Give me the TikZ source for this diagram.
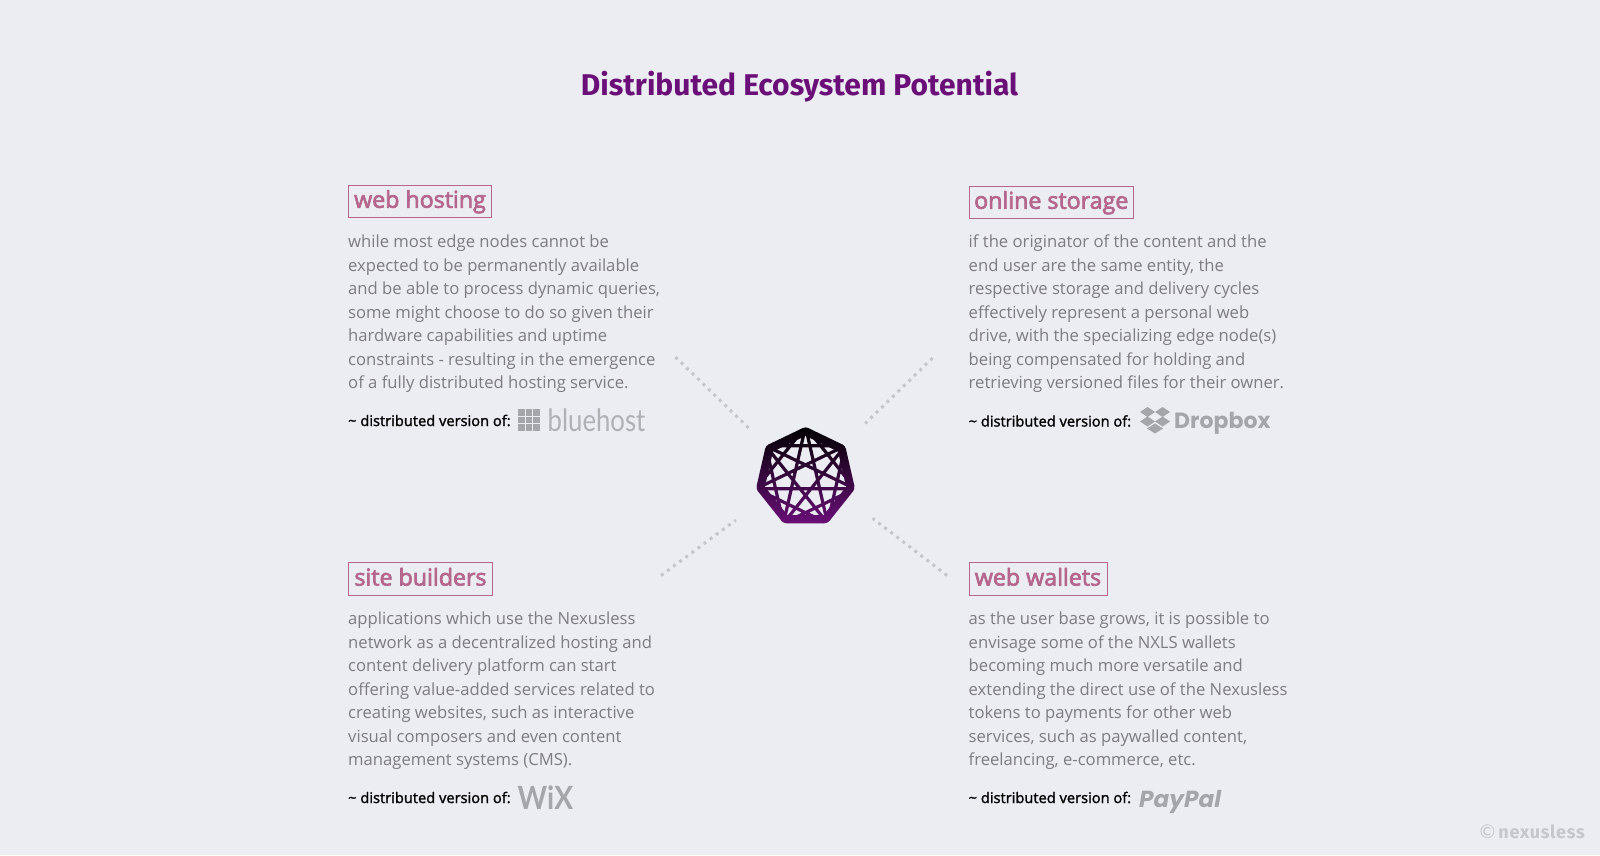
\documentclass[tikz,border=0pt]{standalone}
\usepackage{fontspec}
\usepackage{graphicx}
\usetikzlibrary{calc,shapes.geometric}
\setmainfont{Open Sans}
\newfontfamily\headfont[FakeBold=3]{Open Sans}
\newfontfamily\titlefont{Fira Sans}
\newfontfamily\lightfont{Lato}
\newfontfamily\logofont{Poppins}
\newfontfamily\medfont[FakeBold=1.5]{Open Sans}
\newfontfamily\footfont[LetterSpace=4]{Fira Sans}
\definecolor{bgc}{HTML}{ECEDF3}
\definecolor{titlec}{HTML}{6A0F78}
\definecolor{boxc}{HTML}{B5668C}
\definecolor{bodyc}{HTML}{7C7C82}
\definecolor{logoc}{HTML}{A5A6A9}
\definecolor{dotc}{HTML}{C4C6CC}
\definecolor{footc}{HTML}{C6C7CD}
\tikzset{
  headbox/.style={draw=boxc,line width=1pt,text=boxc,inner sep=0pt,anchor=north west,minimum height=31.5pt,
    text height=17pt,text depth=4pt,font=\headfont\fontsize{23.2}{28}\selectfont},
  bodytext/.style={text=bodyc,inner sep=0pt,anchor=north west,align=left,
    font=\fontsize{16.65}{23.5}\selectfont},
  vstext/.style={text=black,inner sep=0pt,anchor=base west,font=\medfont\fontsize{14.65}{18}\selectfont},
  logotext/.style={text=logoc,inner sep=0pt,anchor=base west},
  dotline/.style={dotc,line width=3pt,dash pattern=on 3pt off 4.6pt},
  emblemshade/.style={top color=black,middle color=titlec!62!black,bottom color=titlec},
}
\begin{document}
\begin{tikzpicture}[x=1pt,y=-1pt]
\useasboundingbox (0,0) rectangle (1600,855);
\fill[bgc] (0,0) rectangle (1600,855);

\node[text=titlec,inner sep=0pt,anchor=base,font=\titlefont\bfseries\fontsize{30}{36}\selectfont] (title) at (799.5,95) {Distributed Ecosystem Potential};

% head boxes
\node[headbox,minimum width=143pt] (h1) at (348,185) {web hosting};
\node[headbox,minimum width=164.5pt] (h2) at (968.5,186) {online storage};
\node[headbox,minimum width=144pt,minimum height=33pt] (h3) at (348,562) {site builders};
\node[headbox,minimum width=138pt,minimum height=33pt] (h4) at (968.5,562) {web wallets};

% body
\node[bodytext] (b1) at (348,234.7) {while most edge nodes cannot be\\expected to be permanently available\\and be able to process dynamic queries,\\some might choose to do so given their\\hardware capabilities and uptime\\constraints - resulting in the emergence\\of a fully distributed hosting service.};
\node[bodytext] (b2) at (968.5,234.8) {if the originator of the content and the\\end user are the same entity, the\\respective storage and delivery cycles\\effectively represent a personal web\\drive, with the specializing edge node(s)\\being compensated for holding and\\retrieving versioned files for their owner.};
\node[bodytext] (b3) at (348,612) {applications which use the Nexusless\\network as a decentralized hosting and\\content delivery platform can start\\offering value-added services related to\\creating websites, such as interactive\\visual composers and even content\\management systems (CMS).};
\node[bodytext] (b4) at (968.5,612) {as the user base grows, it is possible to\\envisage some of the NXLS wallets\\becoming much more versatile and\\extending the direct use of the Nexusless\\tokens to payments for other web\\services, such as paywalled content,\\freelancing, e-commerce, etc.};

% distributed version lines
\node[vstext] (v1) at (348,426) {\textasciitilde{} distributed version of:};
\node[vstext] (v2) at (968.5,426.5) {\textasciitilde{} distributed version of:};
\node[vstext] (v3) at (348,803) {\textasciitilde{} distributed version of:};
\node[vstext] (v4) at (968.5,803) {\textasciitilde{} distributed version of:};

% bluehost logo
\foreach \i in {0,1,2}\foreach \j in {0,1,2}
  \fill[logoc] ({518+\i*7.5},{409+\j*7.5}) rectangle ++(6.6,6.6);
\node[logotext,font=\lightfont\fontsize{31}{36}\selectfont,text=logoc!85!bgc] (l1) at (547.5,431) {\scalebox{0.83}[1]{bluehost}};

% dropbox logo
\foreach \cx/\cy in {1147.5/412,1162.5/412,1147.5/421.5,1162.5/421.5}
  \fill[logoc] (\cx-7.5,\cy) -- (\cx,\cy-5) -- (\cx+7.5,\cy) -- (\cx,\cy+5) -- cycle;
\fill[logoc] (1155,423.5) -- (1163,428.5) -- (1155,433.5) -- (1147,428.5) -- cycle;
\node[logotext,font=\logofont\bfseries\fontsize{22}{30}\selectfont] (l2) at (1174,428.5) {Dropbox};

% wix logo
\node[logotext,font=\lightfont\bfseries\fontsize{32}{36}\selectfont] (l3) at (517.5,809) {\scalebox{0.88}[1]{WiX}};

% paypal logo
\node[logotext,font=\logofont\bfseries\itshape\fontsize{23.2}{30}\selectfont] (l4) at (1139,807) {PayPal};

% footer
\node[text=footc,inner sep=0pt,anchor=base east,font=\footfont\bfseries\fontsize{18}{22}\selectfont] (foot) at (1585,838) {{\lightfont\mdseries\fontsize{19}{22}\selectfont ©}\,nexusless};

% hub emblem
\node[circle,minimum size=150pt,inner sep=0pt] (hub) at (805.5,477.5) {};
\foreach \i in {0,...,6}
  \coordinate (w\i) at ({805.5+50.8*sin(\i*360/7)},{477.5-50.8*cos(\i*360/7)});
\foreach \i in {0,...,6}
  \coordinate (u\i) at ({805.5+41.5*sin(\i*360/7)},{477.5-41.5*cos(\i*360/7)});
\begin{scope}
\clip[rounded corners=3.5pt] (w0) -- (w1) -- (w2) -- (w3) -- (w4) -- (w5) -- (w6) -- cycle;
\shade[emblemshade]
  (w0) -- (w1) -- (w2) -- (w3) -- (w4) -- (w5) -- (w6) -- cycle;
\fill[bgc] (u0) -- (u1) -- (u2) -- (u3) -- (u4) -- (u5) -- (u6) -- cycle;
\shade[emblemshade]
  \foreach \a/\b in {0/2,1/3,2/4,3/5,4/6,5/0,6/1,0/3,1/4,2/5,3/6,4/0,5/1,6/2}{
    ($(w\a)!1.6pt!90:(w\b)$) -- ($(w\a)!1.6pt!-90:(w\b)$) -- ($(w\b)!1.6pt!90:(w\a)$) -- ($(w\b)!1.6pt!-90:(w\a)$) -- cycle
  };
\end{scope}

% connectors
\coordinate (c1) at (675.5,357);
\coordinate (c2) at (932.5,358);
\coordinate (c3) at (661,575.5);
\coordinate (c4) at (947,575.5);
\draw[dotline] (c1) -- (hub.139.6);
\draw[dotline,shorten >=5.5pt] (c2) -- (hub.42.1);
\draw[dotline,shorten >=6.4pt] (c3) -- (hub.211);
\draw[dotline,shorten >=3.4pt] (c4) -- (hub.-31.4);
\end{tikzpicture}
\end{document}
